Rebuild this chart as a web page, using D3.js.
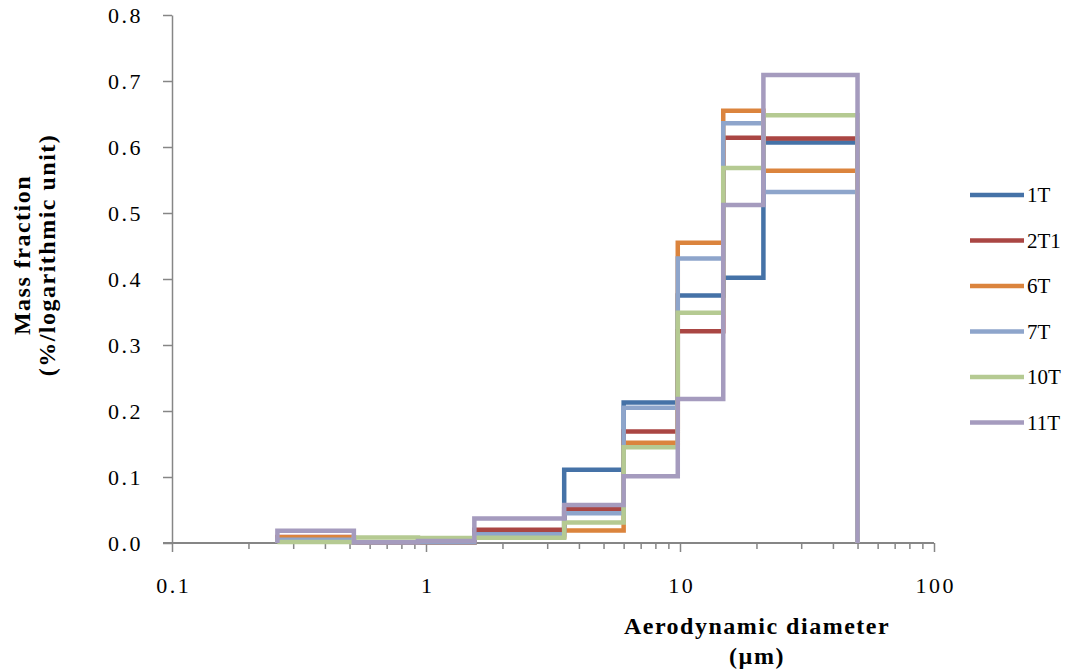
<!DOCTYPE html>
<html>
  <head>
    <meta charset="UTF-8"/>
    <script src="https://d3js.org/d3.v7.min.js"></script>
    <style>
      body { margin: 0; background: #fff; }
      text { font-family: "Liberation Serif", "Times New Roman", serif; fill: #000; }
      .axis path, .axis line { stroke: #868686; }
    </style>
  </head>
  <body>
    <script>
      // stage cut sizes (um), bin edges
      const edges = [0.26, 0.52, 0.93, 1.55, 3.5, 6.0, 9.8, 14.8, 21.3, 50];
      const seriesNames = ['1T', '2T1', '6T', '7T', '10T', '11T'];
      const s1T  = [0.008, 0.001, 0.001, 0.019, 0.111, 0.213, 0.375, 0.402, 0.607];
      const s2T1 = [0.009, 0.001, 0.001, 0.020, 0.051, 0.169, 0.321, 0.614, 0.613];
      const s6T  = [0.0086, 0.001, 0.001, 0.010, 0.019, 0.152, 0.455, 0.655, 0.564];
      const s7T  = [0.005, 0.001, 0.001, 0.013, 0.045, 0.205, 0.431, 0.636, 0.532];
      const s10T = [0.0017, 0.0085, 0.0075, 0.008, 0.031, 0.145, 0.349, 0.568, 0.648];
      const s11T = [0.0186, 0.001, 0.003, 0.037, 0.0575, 0.101, 0.218, 0.512, 0.709];
      const seriesValues = [s1T, s2T1, s6T, s7T, s10T, s11T];
      const colors = ['#4572A7', '#AA4643', '#DB843D', '#8EA5CB', '#B5CA92', '#A59BBE'];
      const xMajor = [0.1, 1, 10, 100];
      const yTicks = [0, 0.1, 0.2, 0.3, 0.4, 0.5, 0.6, 0.7, 0.8];

      const width = 1067, height = 669;
      const plotLeft = 172, plotRight = 934, plotTop = 15, plotBottom = 543;

      const svg = d3.select('body').append('svg')
        .attr('width', width)
        .attr('height', height);

      const x = d3.scaleLog().domain([0.1, 100]).range([plotLeft, plotRight]);
      const y = d3.scaleLinear().domain([0, 0.8]).range([plotBottom, plotTop]);

      // minor ticks 2..9 in each decade
      const xMinor = [];
      [0.1, 1, 10].forEach(d => { for (let k = 2; k < 10; k++) xMinor.push(d * k); });

      svg.append('g')
        .attr('class', 'axis')
        .attr('transform', 'translate(0,' + plotBottom + ')')
        .call(d3.axisBottom(x).tickValues(xMinor).tickSize(6).tickFormat(''))
        .call(g => g.select('.domain').remove())
        .selectAll('line').attr('stroke-width', 1.5);

      const xAxis = svg.append('g')
        .attr('class', 'axis')
        .attr('transform', 'translate(0,' + plotBottom + ')')
        .call(d3.axisBottom(x).tickValues(xMajor).tickSize(9).tickSizeOuter(0)
          .tickPadding(25).tickFormat(d3.format('')));
      xAxis.select('.domain').attr('stroke-width', 2).attr('d', 'M' + (plotLeft - 9) + ',0H' + plotRight);
      xAxis.selectAll('line').attr('stroke-width', 1.5);
      xAxis.selectAll('text').style('font-size', '22px').style('letter-spacing', '2.5px')
        .attr('dx', '1.2px');

      const yAxis = svg.append('g')
        .attr('class', 'axis')
        .attr('transform', 'translate(' + plotLeft + ',0)')
        .call(d3.axisLeft(y).tickValues(yTicks).tickSize(9).tickSizeOuter(0)
          .tickPadding(20).tickFormat(d3.format('.1f')));
      yAxis.select('.domain').attr('stroke-width', 1.5);
      yAxis.selectAll('line').attr('stroke-width', 1.5);
      yAxis.selectAll('text').style('font-size', '22px').style('letter-spacing', '2.5px');

      // step outline for each series
      const line = d3.line().x(d => x(d[0])).y(d => y(d[1]));
      seriesValues.forEach((vals, i) => {
        const pts = [[edges[0], 0]];
        vals.forEach((v, j) => { pts.push([edges[j], v]); pts.push([edges[j + 1], v]); });
        pts.push([edges[edges.length - 1], 0]);
        svg.append('path')
          .attr('d', line(pts))
          .attr('fill', 'none')
          .attr('stroke', colors[i])
          .attr('stroke-width', 4.5)
          .attr('stroke-linejoin', 'miter');
      });

      // legend
      const legend = svg.append('g');
      seriesNames.forEach((name, i) => {
        const ly = 195 + i * 45.5;
        legend.append('line')
          .attr('x1', 970).attr('x2', 1024)
          .attr('y1', ly).attr('y2', ly)
          .attr('stroke', colors[i]).attr('stroke-width', 4.5);
        legend.append('text')
          .attr('x', 1027).attr('y', ly + 7)
          .style('font-size', '21px')
          .text(name);
      });

      // axis titles
      svg.append('text')
        .attr('x', 757).attr('y', 634)
        .attr('text-anchor', 'middle')
        .style('font-size', '24px').style('font-weight', 'bold').style('letter-spacing', '1.5px')
        .text('Aerodynamic diameter');
      svg.append('text')
        .attr('x', 757).attr('y', 664)
        .attr('text-anchor', 'middle')
        .style('font-size', '24px').style('font-weight', 'bold').style('letter-spacing', '1.5px')
        .text('(µm)');

      const yTitle = svg.append('text')
        .attr('transform', 'translate(30,255) rotate(-90)')
        .attr('text-anchor', 'middle')
        .style('font-size', '24px').style('font-weight', 'bold').style('letter-spacing', '1.5px');
      yTitle.append('tspan').attr('x', 0).attr('y', 0).text('Mass fraction');
      yTitle.append('tspan').attr('x', 0).attr('y', 25).text('(%/logarithmic unit)');
    </script>
  </body>
</html>
